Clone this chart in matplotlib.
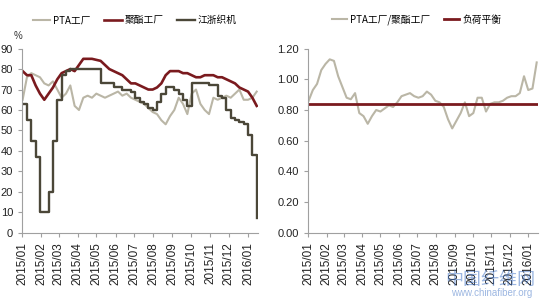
import matplotlib
matplotlib.use("Agg")
import matplotlib.pyplot as plt
import pandas as pd

plt.rcParams['font.family'] = ['Liberation Sans', 'Noto Sans CJK SC', 'DejaVu Sans']

dates = pd.date_range("2015-01-02", periods=55, freq="7D")

pta = [65, 76, 78, 77, 76, 73, 72, 74, 70, 66, 68, 72, 62, 60, 66, 67, 66, 68, 67, 66,
       67, 68, 69, 67, 68, 66, 65, 64, 63, 61, 59, 58, 55, 53, 57, 60, 66, 63, 58, 68,
       70, 63, 60, 58, 66, 65, 66, 67, 66, 68, 70, 65, 65, 66, 69]
polyester = [79, 77, 77, 72, 68, 65, 68, 71, 75, 78, 79, 80, 79, 82, 85, 85, 85, 84.5, 84, 82,
             80, 79, 78, 77, 75, 73, 73, 72, 71, 70, 70, 71, 73, 77, 79, 79, 79, 78, 78, 77,
             76, 76, 77, 77, 77, 76, 76, 75, 74, 73, 71, 70, 69, 66, 62]
looms = [63, 55, 45, 37, 10, 10, 20, 45, 65, 77, 79, 80, 80, 80, 80, 80, 80, 80, 73, 73,
         73, 71, 71, 70, 70, 69, 66, 64, 63, 61, 60, 64, 68, 71, 71, 70, 68, 65, 62, 73,
         73, 73, 73, 72, 72, 67, 66, 60, 56, 55, 54, 53, 48, 38, 7]
ratio = [0.86, 0.93, 0.97, 1.06, 1.10, 1.13, 1.12, 1.02, 0.95, 0.88, 0.87, 0.91, 0.78, 0.76,
         0.71, 0.76, 0.80, 0.79, 0.81, 0.83, 0.82, 0.85, 0.89, 0.90, 0.91, 0.89, 0.88, 0.89,
         0.92, 0.90, 0.86, 0.85, 0.82, 0.74, 0.68, 0.73, 0.78, 0.85, 0.76, 0.78, 0.88, 0.88,
         0.79, 0.84, 0.85, 0.85, 0.86, 0.88, 0.89, 0.89, 0.91, 1.02, 0.93, 0.94, 1.11]
balance = 0.84

left_labels = ["PTA工厂", "聚酯工厂", "江浙织机"]
right_labels = ["PTA工厂/聚酯工厂", "负荷平衡"]
left_yticks = [0, 10, 20, 30, 40, 50, 60, 70, 80, 90]
right_yticks = [0.0, 0.2, 0.4, 0.6, 0.8, 1.0, 1.2]

c_pta = "#BAB6A6"
c_poly = "#7A1A1E"
c_loom = "#4B4738"
c_axis = "#A0A0A0"
cjk = ["Noto Sans CJK SC", "DejaVu Sans"]

fig = plt.figure(figsize=(5.5, 3.0), dpi=100)
fig.patch.set_facecolor("white")

ax1 = fig.add_axes([0.04, 0.224, 0.429, 0.614])
ax2 = fig.add_axes([0.56, 0.224, 0.418, 0.614])

l1, = ax1.plot(dates, pta, color=c_pta, lw=1.5)
l2, = ax1.plot(dates, polyester, color=c_poly, lw=1.9)
l3, = ax1.plot(dates, looms, color=c_loom, lw=1.7, drawstyle="steps-post")
ax1.set_ylim(0, 90)
ax1.set_yticks(left_yticks)
ax1.set_yticklabels([str(v) for v in left_yticks])
ax1.text(0.0, 1.04, "%", transform=ax1.transAxes, fontsize=7, ha="right", va="bottom", color="#333333")

r1, = ax2.plot(dates, ratio, color=c_pta, lw=1.5)
r2 = ax2.axhline(balance, color=c_poly, lw=2.0)
ax2.set_ylim(0, 1.2)
ax2.set_yticks(right_yticks)
ax2.set_yticklabels([f"{v:.2f}" for v in right_yticks])

xmin = pd.Timestamp("2015-01-01")
xmax = pd.Timestamp("2016-01-17")
months = pd.date_range("2015-01-01", "2016-01-01", freq="MS")
for ax in (ax1, ax2):
    ax.set_xlim(xmin, xmax)
    ax.set_xticks(months)
    ax.set_xticklabels([m.strftime("%Y/%m") for m in months], rotation=90, fontsize=8.5, color="#222222")
    for s in ("top", "right"):
        ax.spines[s].set_visible(False)
    for s in ("left", "bottom"):
        ax.spines[s].set_color(c_axis)
        ax.spines[s].set_linewidth(0.8)
    ax.tick_params(axis="both", colors=c_axis, length=3, width=0.8, direction="out")
    ax.tick_params(axis="y", labelcolor="#222222", labelsize=8)
    ax.tick_params(axis="x", labelcolor="#222222")
    ax.set_facecolor("none")

fig.legend([l1, l2, l3], left_labels, loc="center", bbox_to_anchor=(0.245, 0.933), ncol=3,
           frameon=False, handlelength=1.8, columnspacing=1.4, handletextpad=0.3,
           prop={"family": cjk, "size": 7})
fig.legend([r1, r2], right_labels, loc="center", bbox_to_anchor=(0.757, 0.933), ncol=2,
           frameon=False, handlelength=1.6, columnspacing=1.4, handletextpad=0.3,
           prop={"family": cjk, "size": 7})

# watermark
fig.text(0.973, 0.068, "中国纤维网", color="#3A6FC4", alpha=0.5, fontsize=13, ha="right", va="center",
         family=cjk, zorder=0)
fig.text(0.967, 0.022, "www.chinafiber.org", color="#3A6FC4", alpha=0.5, fontsize=7, ha="right",
         va="center", zorder=0)

fig.savefig("out.png", dpi=100, facecolor="white")
